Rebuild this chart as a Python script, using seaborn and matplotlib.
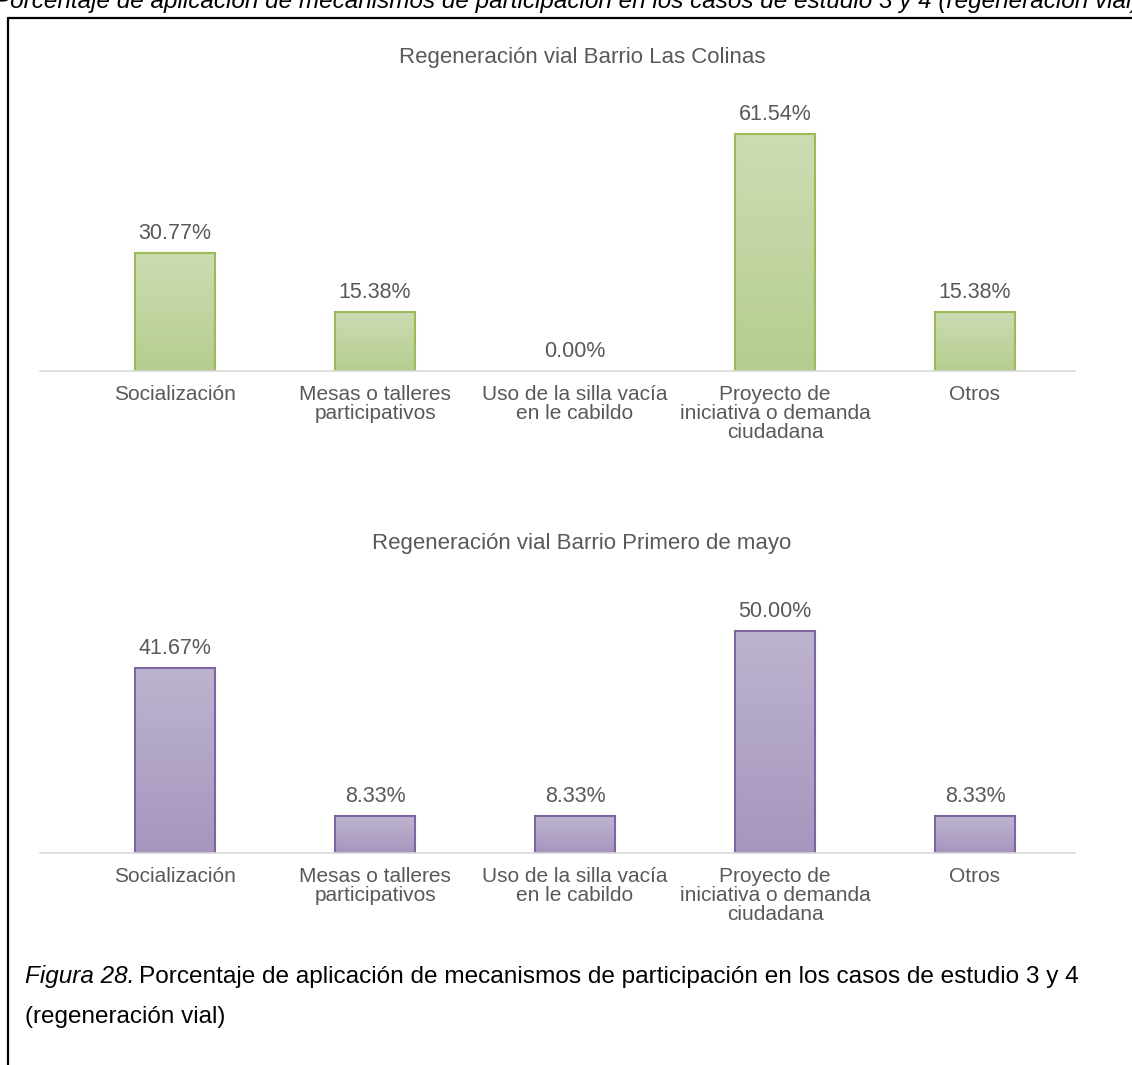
import matplotlib
matplotlib.use("Agg")
import matplotlib.pyplot as plt
import seaborn as sns
import numpy as np
import pandas as pd
from matplotlib.lines import Line2D
from matplotlib.colors import LinearSegmentedColormap

# data
categorias = ["Socialización", "Mesas o talleres\nparticipativos",
              "Uso de la silla vacía\nen le cabildo",
              "Proyecto de\niniciativa o demanda\nciudadana", "Otros"]
colinas = [30.77, 15.38, 0.00, 61.54, 15.38]
primero_mayo = [41.67, 8.33, 8.33, 50.00, 8.33]
titulo1 = "Regeneración vial Barrio Las Colinas"
titulo2 = "Regeneración vial Barrio Primero de mayo"

W, H = 1132, 1065
sns.set_theme(style="white")
plt.rcParams['font.family'] = ['Liberation Sans', 'DejaVu Sans']
gris = "#595959"

fig = plt.figure(figsize=(W / 100, H / 100), dpi=100)


def px_axes(left, right, top, bottom):
    return fig.add_axes([left / W, 1 - bottom / H, (right - left) / W, (bottom - top) / H])


def grafico(ax, valores, ymax, fill_top, fill_bot, borde):
    df = pd.DataFrame({"cat": categorias, "val": valores})
    sns.barplot(data=df, x="cat", y="val", ax=ax, width=0.4, color=fill_bot,
                edgecolor=borde, linewidth=1.5, saturation=1)
    cmap = LinearSegmentedColormap.from_list("g", [fill_bot, fill_top])
    grad = np.linspace(0, 1, 100).reshape(-1, 1)
    for p, v in zip(ax.patches, valores):
        x0, w = p.get_x(), p.get_width()
        if v > 0:
            ax.imshow(grad, extent=[x0, x0 + w, 0, v], cmap=cmap, aspect="auto",
                      origin="lower", zorder=p.get_zorder() - 0.1)
        else:
            p.set_edgecolor("none")
        p.set_facecolor("none")
        ax.annotate(f"{v:.2f}%", (x0 + w / 2, v), xytext=(0, 14), textcoords="offset points",
                    ha="center", va="center", color=gris, fontsize=15.5)
    ax.set_xlim(-0.675, 4.5)
    ax.set_ylim(0, ymax)
    ax.set_xlabel("")
    ax.set_ylabel("")
    ax.set_yticks([])
    ax.tick_params(axis="x", length=0, pad=10, labelsize=15, labelcolor=gris)
    for lab in ax.get_xticklabels():
        lab.set_linespacing(1.0)
    for s in ["top", "left", "right"]:
        ax.spines[s].set_visible(False)
    ax.spines["bottom"].set_color("#d9d9d9")
    ax.spines["bottom"].set_linewidth(1.2)


ax1 = px_axes(40, 1075, 371 - 70 * 3.85, 371)
grafico(ax1, colinas, 70, "#cddcb3", "#b6cd8f", "#9bbb59")
ax2 = px_axes(40, 1075, 853 - 60 * 4.44, 853)
grafico(ax2, primero_mayo, 60, "#bdb4d0", "#a696be", "#8064a2")

fig.text(582 / W, 1 - 57 / H, titulo1, ha="center", va="center", color=gris, fontsize=16)
fig.text(582 / W, 1 - 543 / H, titulo2, ha="center", va="center", color=gris, fontsize=16)

# marco
fig.add_artist(Line2D([8 / W, 8 / W], [0, 1 - 18 / H], color="black", lw=1.6,
                      transform=fig.transFigure))
fig.add_artist(Line2D([8 / W, 1], [1 - 18 / H, 1 - 18 / H], color="black", lw=1.6,
                      transform=fig.transFigure))

# texto cortado arriba
fig.text(-6 / W, 1 - 8 / H,
         "Porcentaje de aplicación de mecanismos de participación en los casos de estudio 3 y 4 (regeneración vial)",
         ha="left", va="baseline", style="italic", color="black", fontsize=17.5)

# pie de figura
t = fig.text(25 / W, 1 - 983 / H, "Figura 28.", ha="left", va="baseline",
             style="italic", color="black", fontsize=17.5)
fig.canvas.draw()
bb = t.get_window_extent()
fig.text(bb.x1 / W + 5 / W, 1 - 983 / H,
         "Porcentaje de aplicación de mecanismos de participación en los casos de estudio 3 y 4",
         ha="left", va="baseline", color="black", fontsize=17.6)
fig.text(25 / W, 1 - 1023 / H, "(regeneración vial)", ha="left", va="baseline",
         color="black", fontsize=17.5)

fig.savefig("out.png", dpi=100)
